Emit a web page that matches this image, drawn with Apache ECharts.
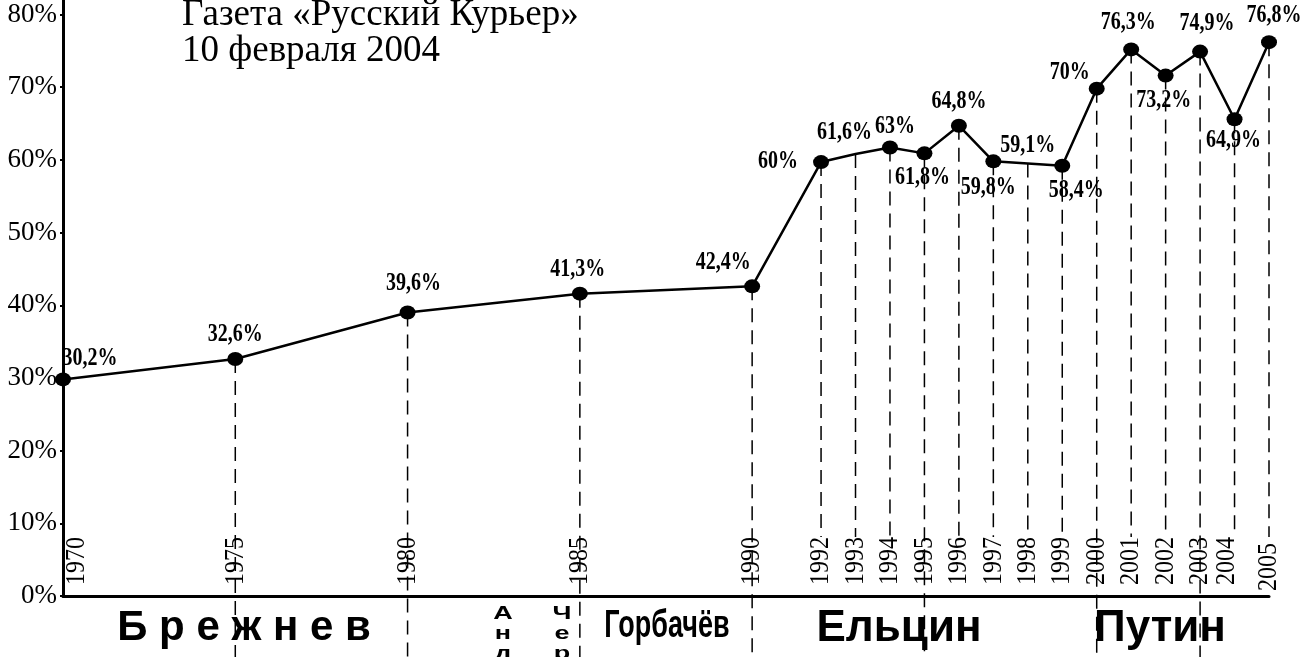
<!DOCTYPE html>
<html><head><meta charset="utf-8">
<script src="https://cdn.jsdelivr.net/npm/echarts@6/dist/echarts.min.js"></script>
<style>html,body{margin:0;padding:0;background:#fff}#c{width:1300px;height:657px}</style>
</head><body><div id="c"></div>
<script>
// ---- data ----
const years  = [1970, 1975, 1980, 1985, 1990, 1992, 1993, 1994, 1995, 1996, 1997, 1998, 1999, 2000, 2001, 2002, 2003, 2004, 2005];
const values = [29.8, 32.6, 39.0, 41.6, 42.6, 59.7, 60.8, 61.7, 60.9, 64.7, 59.8, 59.5, 59.2, 69.8, 75.2, 71.6, 74.9, 65.6, 76.2];
const labels = ['30,2%', '32,6%', '39,6%', '41,3%', '42,4%', '60%', '61,6%', '63%', '61,8%', '64,8%', '59,8%', '59,1%', '58,4%', '70%', '76,3%', '73,2%', '74,9%', '64,9%', '76,8%'];
const unmarkedYears = [1993, 1998];
const yearTicks = [1970, 1975, 1980, 1985, 1990, 1992, 1993, 1994, 1995, 1996, 1997, 1998, 1999, 2000, 2001, 2002, 2003, 2004, 2005];
const yTicks = [0, 10, 20, 30, 40, 50, 60, 70, 80];
const longLineYears = [1975, 1980, 1985, 1990, 1995, 2000, 2003];
const noLineYears = [1970];
const titleLines = ['Газета «Русский Курьер»', '10 февраля 2004'];
const eraNames = ['Б р е ж н е в', 'А\nн\nд', 'Ч\nе\nр', 'Горбачёв', 'Ельцин', 'Путин'];

// ---- styles (label placement per year) ----
const labelPlace = {
  1970: ['top', [27, 3]], 1975: ['top', [0, 0]], 1980: ['top', [6, -5]], 1985: ['top', [-2, 0]],
  1990: ['top', [-29, 1]], 1992: ['left', [-10, 0]], 1993: ['top', [-11, -4]], 1994: ['top', [5, 3]],
  1995: ['bottom', [-2, 0]], 1996: ['top', [0, 0]], 1997: ['bottom', [-5, 2]], 1998: ['top', [0, -1]],
  1999: ['bottom', [14, 1]], 2000: ['left', [6, -16]], 2001: ['top', [-3, -3]], 2002: ['bottom', [-2, 1]],
  2003: ['top', [7, -4]], 2004: ['bottom', [-1, -3]], 2005: ['top', [5, -2]]
};
const yearLabelShift = {1970: [14, 0], 2004: [-8, 0], 2005: [0, 6]};
const eraStyle = [
  {x: 244, y: 628, font: 'bold 42px "Liberation Sans", Arial, sans-serif', sx: 1, sy: 1, va: 'middle'},
  {x: 503, y: 604, font: 'bold 18px "Liberation Sans", Arial, sans-serif', sx: 1.5, sy: 1, va: 'top', lh: 20},
  {x: 562, y: 604, font: 'bold 18px "Liberation Sans", Arial, sans-serif', sx: 1.5, sy: 1, va: 'top', lh: 20},
  {x: 667, y: 626, font: 'bold 27px "Liberation Sans Narrow", "Liberation Sans", sans-serif', sx: 1, sy: 1.45, va: 'middle'},
  {x: 899, y: 629, font: 'bold 44px "Liberation Sans", Arial, sans-serif', sx: 1, sy: 1, va: 'middle'},
  {x: 1160, y: 629, font: 'bold 44px "Liberation Sans", Arial, sans-serif', sx: 1, sy: 1, va: 'middle'}
];

const serif = '"Liberation Serif", "Times New Roman", serif';

const lineData = years.map((yr, i) => {
  const item = {value: [yr, values[i]]};
  if (unmarkedYears.includes(yr)) item.symbolSize = 0;
  return item;
});

const dropData = years
  .map((yr, i) => [yr, values[i], longLineYears.includes(yr) ? 1 : 0])
  .filter(d => !noLineYears.includes(d[0]));

const yearLabelData = yearTicks.map(yr => [yr, 0]);
const valueLabelData = years.map((yr, i) => [yr, values[i], i]);

const graphics = [];
titleLines.forEach((t, i) => {
  graphics.push({type: 'text', x: 182, y: i === 0 ? 15 : 51,
    style: {text: t, font: '37px ' + serif, fill: '#000', align: 'left', textAlign: 'left', verticalAlign: 'middle', textVerticalAlign: 'middle'}});
});
eraNames.forEach((t, i) => {
  const s = eraStyle[i];
  graphics.push({type: 'text', x: s.x, y: s.y, scaleX: s.sx, scaleY: s.sy, z: 10,
    style: {text: t, font: s.font, fill: '#000', align: 'center', textAlign: 'center',
      verticalAlign: s.va, textVerticalAlign: s.va, lineHeight: s.lh || undefined}});
});

const chart = echarts.init(document.getElementById('c'), null, {renderer: 'canvas'});
chart.setOption({
  backgroundColor: '#fff',
  animation: false,
  grid: {left: 63, right: 31, top: 0, bottom: 61, containLabel: false},
  xAxis: {
    type: 'value', min: 1970, max: 2005,
    axisLine: {show: true, onZero: false, lineStyle: {color: '#000', width: 3}},
    axisTick: {show: false},
    splitLine: {show: false},
    axisLabel: {show: false}
  },
  yAxis: {
    type: 'value', min: 0, max: 82,
    axisLine: {show: true, lineStyle: {color: '#000', width: 3}},
    axisTick: {show: true, customValues: yTicks, length: 3, lineStyle: {color: '#000', width: 2}},
    splitLine: {show: false},
    axisLabel: {customValues: yTicks, margin: 6, color: '#000', fontFamily: serif, fontSize: 27,
      formatter: v => v + '%'}
  },
  graphic: graphics,
  series: [
    {
      type: 'custom', z: 1, clip: false, silent: true,
      data: dropData,
      encode: {x: 0, y: 1},
      renderItem: (params, api) => {
        const top = api.coord([api.value(0), api.value(1)]);
        const base = api.coord([api.value(0), 0]);
        const y2 = api.value(2) ? 657 : base[1] - 59;
        return {type: 'line', shape: {x1: top[0], y1: top[1], x2: top[0], y2: y2},
          style: {stroke: '#000', lineWidth: 1.5, lineDash: [14, 8]}};
      }
    },
    {
      type: 'custom', z: 3, clip: false, silent: true,
      data: yearLabelData,
      encode: {x: 0, y: 1},
      renderItem: (params, api) => {
        const yr = api.value(0);
        const base = api.coord([yr, 0]);
        const sh = yearLabelShift[yr] || [0, 0];
        return {type: 'text', x: base[0] + sh[0], y: base[1] - 11 + sh[1], rotation: Math.PI / 2, scaleY: 1.15,
          style: {text: String(yr), font: '24px ' + serif, fill: '#000', align: 'left', verticalAlign: 'middle'}};
      }
    },
    {
      type: 'line', z: 5,
      data: lineData,
      symbol: 'circle', symbolSize: [16, 14],
      itemStyle: {color: '#000'},
      lineStyle: {color: '#000', width: 2.5},
      emphasis: {disabled: true}
    },
    {
      type: 'custom', z: 6, clip: false, silent: true,
      data: valueLabelData,
      encode: {x: 0, y: 1},
      renderItem: (params, api) => {
        const yr = api.value(0);
        const p = api.coord([yr, api.value(1)]);
        const pl = labelPlace[yr];
        const r = unmarkedYears.includes(yr) ? 0 : 7;
        let x = p[0] + pl[1][0], y = p[1] + pl[1][1], align = 'center', va = 'bottom';
        if (pl[0] === 'top') { y -= r + 5; }
        else if (pl[0] === 'bottom') { y += r + 5; va = 'top'; }
        else if (pl[0] === 'left') { x -= 8 + 5; align = 'right'; va = 'middle'; }
        return {type: 'text', x: x, y: y, scaleY: 1.22,
          style: {text: labels[api.value(2)], font: 'bold 20px ' + serif, fill: '#000', align: align, verticalAlign: va}};
      }
    }
  ]
});
</script>
</body></html>
